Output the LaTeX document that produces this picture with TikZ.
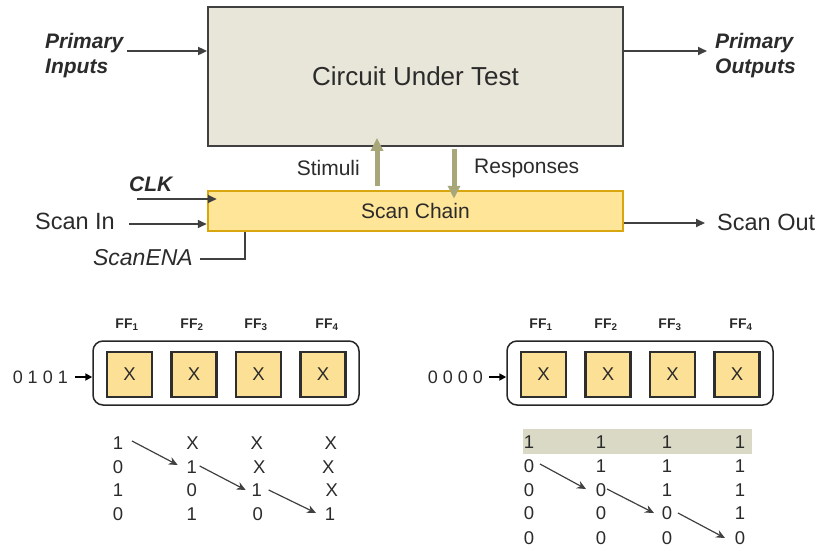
\documentclass[tikz,border=0pt]{standalone}
\usepackage{fontspec}
\setmainfont{Liberation Sans}
\usetikzlibrary{arrows.meta,calc}
\definecolor{txtgray}{HTML}{2B2B2B}
\definecolor{linegray}{HTML}{404040}
\definecolor{cutfill}{HTML}{E8E6D8}
\definecolor{scanfill}{HTML}{FFE597}
\definecolor{scanborder}{HTML}{D8A60E}
\definecolor{olive}{HTML}{A7A779}
\definecolor{bandfill}{HTML}{D9D9C5}
\definecolor{fffill}{HTML}{FBE096}
\begin{document}
\begin{tikzpicture}[x=1pt,y=-1pt,
  every node/.style={inner sep=0pt, text=txtgray},
  fs/.style={font=\fontsize{#1}{#1}\selectfont},
  lbl/.style={font=\fontsize{21}{25}\selectfont},
  lblbi/.style={font=\fontsize{21}{25}\selectfont\bfseries\itshape, align=left},
  arr/.style={draw=linegray, line width=1.9pt, -{Triangle[length=9pt,width=8pt]}},
  bigarr/.style={draw=olive, line width=5pt, -{Triangle[length=13pt,width=12pt]}},
  tarr/.style={draw=linegray, line width=1.2pt, -{Stealth[length=9pt,width=8pt]}},
  cutbox/.style={draw=linegray, line width=1.8pt, fill=cutfill, minimum width=415pt, minimum height=139pt, font=\fontsize{26}{26}\selectfont},
  scanbox/.style={draw=scanborder, line width=2.5pt, fill=scanfill, minimum width=415pt, minimum height=40pt, font=\fontsize{21}{21}\selectfont},
  regbox/.style={draw=black!85, line width=1.5pt, rounded corners=10pt, minimum width=266pt, minimum height=64pt},
  ffbox/.style={draw=black!82, line width=2.6pt, fill=fffill, minimum size=45pt, font=\fontsize{18.5}{18.5}\selectfont},
  fflbl/.style={font=\fontsize{14}{14}\selectfont\bfseries},
  dig/.style={font=\fontsize{18.5}{18.5}\selectfont},
]
\useasboundingbox (0,0) rectangle (823,550);

% ---------- top part ----------
\node[cutbox] (cut) at (415.5,76.5) {Circuit Under Test};
\node[scanbox] (sc) at (415.5,211) {Scan Chain};

\node[lblbi, anchor=base west] (pi) at (45,73) {Primary\\Inputs};
\node[lblbi, anchor=base west] (po) at (715,73) {Primary\\Outputs};
\coordinate (pistart) at (127,51);
\coordinate (poend) at (707,51);
\draw[arr] (pistart) -- (pistart -| cut.west);
\draw[arr] (poend -| cut.east) -- (poend);

\draw[bigarr] ($(sc.north)+(-38.5,-4)$) -- ($(cut.south)+(-38.5,-9)$);
\draw[bigarr] ($(cut.south)+(38.5,2)$) -- ($(sc.north)+(38.5,9)$);
\node[lbl, anchor=east] (stim) at (360,168) {Stimuli};
\node[lbl, anchor=west] (resp) at (474,168) {Responses};

\node[lblbi, anchor=west] (clk) at (129,184) {CLK};
\coordinate (clkstart) at (137,199);
\draw[arr] (clkstart) -- ($(clkstart -| sc.west)+(10,0)$);

\node[fs=23.5, anchor=east] (scanin) at (115,221) {Scan In};
\coordinate (sistart) at (129,224);
\draw[arr] (sistart) -- (sistart -| sc.west);

\node[font=\fontsize{23}{23}\selectfont\itshape, anchor=east] (ena) at (193,258) {ScanENA};
\coordinate (enastart) at (200,259);
\coordinate (enacorner) at (245,259);
\draw[draw=linegray, line width=2.2pt] (enastart) -- (enacorner) -- (enacorner |- sc.south);

\coordinate (soend) at (705,223);
\draw[arr] (soend -| sc.east) -- (soend);
\node[fs=23.5, anchor=west] (scanout) at (717,222) {Scan Out};

% ---------- bottom left ----------
\node[regbox] (regA) at (226,373) {};
\foreach \i/\x/\lx in {1/129.5/127, 2/194/192, 3/258.5/256, 4/323/327}{
  \node[ffbox] (ffA\i) at (\x,374.5) {X};
  \node[fflbl] (lblA\i) at (\lx,325) {FF\textsubscript{\i}};
}
\node[fs=18, anchor=east] (inA) at (68,377) {0 1 0 1};
\coordinate (inAend) at (75,377);
\draw[draw=black, line width=1.8pt, -{Triangle[length=7pt,width=7pt]}] (inAend) -- (inAend -| regA.west);

\node[dig] (a11) at (118,443) {1};
\node[dig] (a12) at (192.5,443) {X};
\node[dig] (a13) at (256.7,443) {X};
\node[dig] (a14) at (330.7,443) {X};
\node[dig] (a21) at (118,467) {0};
\node[dig] (a22) at (191.7,467) {1};
\node[dig] (a23) at (259.3,467) {X};
\node[dig] (a24) at (328.3,467) {X};
\node[dig] (a31) at (118,490) {1};
\node[dig] (a32) at (191.7,490) {0};
\node[dig] (a33) at (256.7,490) {1};
\node[dig] (a34) at (331.7,490) {X};
\node[dig] (a41) at (118,514) {0};
\node[dig] (a42) at (191.7,514) {1};
\node[dig] (a43) at (257.7,514) {0};
\node[dig] (a44) at (330,514) {1};
\draw[tarr] ($(a11)+(14,-2)$) -- ($(a22)+(-14,-2)$);
\draw[tarr] ($(a22)+(8,-1)$) -- ($(a33)+(-11,0)$);
\draw[tarr] ($(a33)+(12,0)$) -- ($(a44)+(-14,-1)$);

% ---------- bottom right ----------
\node[regbox] (regB) at (640,373) {};
\foreach \i/\x/\lx in {1/543.5/541, 2/608/606, 3/672.5/670, 4/737/741}{
  \node[ffbox] (ffB\i) at (\x,374.5) {X};
  \node[fflbl] (lblB\i) at (\lx,325) {FF\textsubscript{\i}};
}
\node[fs=18, anchor=east] (inB) at (483,377) {0 0 0 0};
\coordinate (inBend) at (489,377);
\draw[draw=black, line width=1.8pt, -{Triangle[length=7pt,width=7pt]}] (inBend) -- (inBend -| regB.west);

\fill[bandfill] (523,429) rectangle (752,454);
\foreach \r/\y/\a/\b/\c/\d in {1/442/1/1/1/1, 2/466/0/1/1/1, 3/490/0/0/1/1, 4/513/0/0/0/1, 5/538/0/0/0/0}{
  \node[dig] (b\r1) at (529,\y) {\a};
  \node[dig] (b\r2) at (601,\y) {\b};
  \node[dig] (b\r3) at (667,\y) {\c};
  \node[dig] (b\r4) at (740,\y) {\d};
}
\draw[tarr] ($(b21)+(11,-2)$) -- ($(b32)+(-15,-1)$);
\draw[tarr] ($(b32)+(6,-1)$) -- ($(b43)+(-13,0)$);
\draw[tarr] ($(b43)+(11,0)$) -- ($(b54)+(-15,0)$);
\end{tikzpicture}
\end{document}
